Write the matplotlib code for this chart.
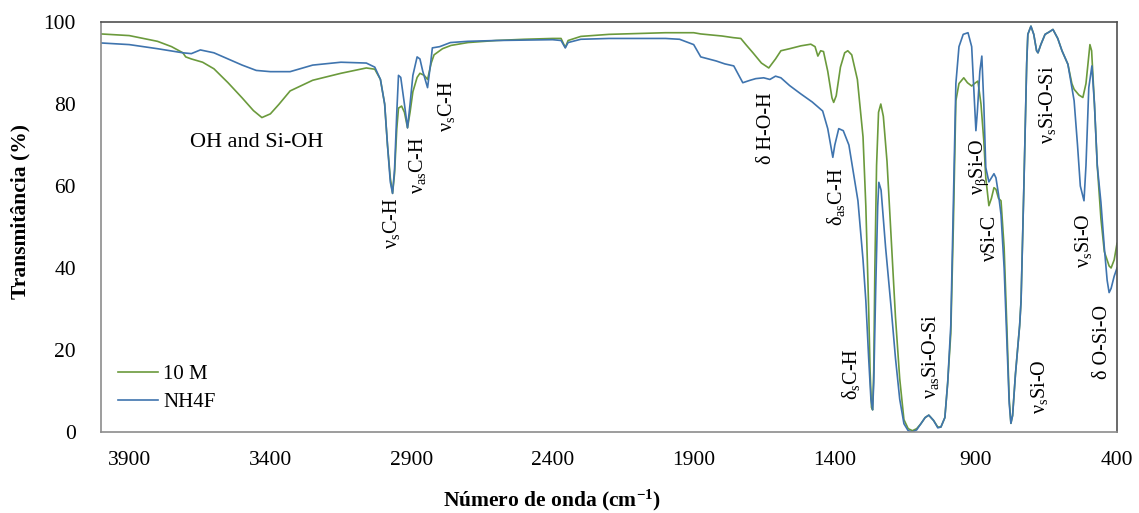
import matplotlib
matplotlib.use("Agg")
import matplotlib.pyplot as plt

plt.rcParams['font.family'] = ['Liberation Serif', 'DejaVu Serif']
plt.rcParams['mathtext.fontset'] = 'custom'
plt.rcParams['mathtext.rm'] = 'Liberation Serif'
plt.rcParams['mathtext.it'] = 'Liberation Serif:italic'
plt.rcParams['mathtext.bf'] = 'Liberation Serif:bold'

# spectrum 10 M (wavenumber, transmittance)
wn_10m = [4000, 3900, 3800, 3750, 3710, 3700, 3680, 3640, 3600, 3550, 3500, 3460,
          3430, 3400, 3370, 3330, 3250, 3150, 3060, 3030, 3010, 2995, 2985, 2975,
          2967, 2960, 2952, 2946, 2935, 2925, 2914, 2905, 2895, 2880, 2870, 2855,
          2843, 2830, 2820, 2790, 2760, 2700, 2600, 2500, 2400, 2370, 2355, 2345,
          2300, 2200, 2100, 2000, 1900, 1875, 1800, 1760, 1733, 1715, 1690, 1660,
          1634, 1610, 1591, 1560, 1520, 1485, 1470, 1460, 1450, 1440, 1425, 1410,
          1404, 1395, 1380, 1365, 1354, 1340, 1320, 1300, 1290, 1280, 1275, 1270,
          1266, 1262, 1258, 1252, 1245, 1237, 1228, 1215, 1200, 1185, 1170, 1155,
          1140, 1125, 1110, 1095, 1080, 1067, 1050, 1035, 1024, 1010, 1000, 989,
          980, 971, 960, 943, 930, 915, 905, 893, 882, 872, 865, 854, 845, 836,
          829, 820, 811, 800, 790, 782, 776, 770, 760, 745, 740, 730, 720, 716,
          705, 695, 685, 680, 670, 655, 640, 627, 610, 595, 574, 560, 552, 535,
          521, 510, 496, 490, 480, 470, 457, 445, 428, 421, 410, 400]
tr_10m = [97.1, 96.7, 95.3, 94.0, 92.5, 91.5, 91.0, 90.2, 88.6, 85.2, 81.5, 78.4,
          76.7, 77.6, 79.9, 83.2, 85.8, 87.5, 88.8, 88.5, 86.0, 80.0, 70.0, 62.0,
          58.2, 63.0, 74.0, 79.0, 79.5, 78.0, 74.2, 78.0, 83.0, 86.5, 87.5, 87.0,
          86.0, 90.0, 92.0, 93.5, 94.3, 95.0, 95.5, 95.8, 96.0, 96.0, 93.8, 95.5,
          96.5, 97.0, 97.2, 97.4, 97.4, 97.1, 96.6, 96.2, 96.0, 94.5, 92.5, 90.0,
          88.8, 91.0, 93.0, 93.5, 94.2, 94.6, 94.0, 91.7, 93.0, 92.8, 88.0, 81.5,
          80.4, 82.0, 89.0, 92.5, 93.0, 92.0, 86.0, 72.0, 55.0, 30.0, 15.0, 6.0,
          5.4, 15.0, 40.0, 65.0, 78.0, 80.0, 77.0, 66.0, 47.0, 28.0, 13.0, 3.0,
          0.8, 0.3, 0.8, 2.0, 3.5, 4.1, 2.8, 1.2, 1.2, 3.5, 12.0, 24.0,
          50.0, 80.8, 85.0, 86.4, 85.2, 84.4, 85.0, 85.6, 80.0, 71.0, 62.0, 55.2, 57.0, 59.6,
          59.2, 57.0, 56.4, 45.0, 25.0, 8.0, 2.1, 4.0, 14.0, 26.0, 32.0, 60.0, 90.0, 97.0,
          99.0, 97.0, 93.0, 92.5, 94.5, 97.0, 97.6, 98.2, 96.0, 93.0, 89.7, 85.0, 83.6, 82.2,
          81.6, 85.0, 94.5, 93.0, 80.0, 65.0, 52.0, 44.0, 40.5, 40.0, 42.0, 46.0]

# spectrum NH4F
wn_nh4f = [4000, 3900, 3800, 3710, 3680, 3648, 3600, 3550, 3500, 3450, 3400, 3330,
           3300, 3250, 3150, 3060, 3030, 3010, 2995, 2985, 2975, 2967, 2960, 2952,
           2946, 2938, 2925, 2914, 2905, 2895, 2880, 2870, 2860, 2843, 2832, 2826,
           2800, 2762, 2700, 2600, 2500, 2400, 2370, 2355, 2345, 2300, 2200, 2100,
           2000, 1950, 1900, 1875, 1820, 1790, 1758, 1740, 1726, 1700, 1680, 1652,
           1630, 1610, 1591, 1560, 1521, 1480, 1443, 1425, 1407, 1400, 1386, 1370,
           1350, 1318, 1300, 1290, 1280, 1272, 1266, 1262, 1255, 1248, 1244, 1236,
           1220, 1200, 1185, 1170, 1155, 1140, 1125, 1110, 1095, 1080, 1067, 1050,
           1035, 1024, 1010, 1000, 989, 980, 971, 960, 945, 928, 915, 905, 900, 895,
           886, 879, 872, 865, 854, 845, 836, 829, 820, 811, 800, 790, 782, 776,
           770, 760, 745, 740, 730, 720, 716, 705, 695, 685, 680, 670, 655, 640,
           627, 610, 595, 574, 560, 552, 540, 530, 517, 510, 500, 489, 480, 470,
           457, 445, 435, 428, 421, 410, 400]
tr_nh4f = [94.9, 94.5, 93.5, 92.5, 92.3, 93.2, 92.5, 91.0, 89.5, 88.2, 87.9, 87.9,
           88.5, 89.5, 90.2, 90.0, 89.0, 86.0, 80.0, 70.0, 61.0, 58.2, 64.0, 78.0,
           87.0, 86.5, 80.0, 74.2, 80.0, 87.0, 91.5, 91.0, 88.0, 84.0, 90.0, 93.7,
           94.0, 95.0, 95.3, 95.5, 95.6, 95.7, 95.5, 93.7, 95.0, 95.8, 96.0, 96.0,
           96.0, 95.8, 94.5, 91.5, 90.5, 89.8, 89.3, 87.0, 85.2, 85.8, 86.2, 86.4,
           86.0, 86.8, 86.4, 84.5, 82.5, 80.5, 78.3, 74.0, 67.0, 70.0, 74.0, 73.5,
           70.0, 56.4, 42.0, 32.0, 18.0, 8.0, 5.4, 12.0, 35.0, 55.0, 60.9, 59.0,
           45.0, 30.0, 18.0, 8.0, 2.0, 0.3, 0.0, 0.5, 2.0, 3.5, 4.1, 2.8,
           1.0, 1.2, 3.5, 12.0, 26.0, 55.0, 85.0, 94.0, 97.0, 97.4, 94.0, 80.0, 73.5, 78.0,
           88.0, 91.7, 80.0, 64.5, 61.0, 62.0, 63.0, 62.0, 58.0, 53.0, 40.0, 22.0, 7.0, 2.1,
           4.0, 14.0, 26.0, 32.0, 60.0, 90.0, 97.0, 99.0, 97.0, 93.0, 92.5, 94.5, 97.0, 97.6,
           98.2, 96.0, 93.0, 89.7, 84.0, 80.8, 70.0, 60.0, 56.4, 65.0, 84.0, 89.3, 80.0, 65.0,
           56.0, 45.0, 37.0, 34.0, 35.0, 38.0, 40.0]

# band assignments: (text, wavenumber, transmittance)
bands = [
    ('ν$_{\\mathrm{s}}$C-H', 2971, 51.0),
    ('ν$_{\\mathrm{as}}$C-H', 2879, 65.1),
    ('ν$_{\\mathrm{s}}$C-H', 2776, 79.5),
    ('δ H-O-H', 1641, 74.1),
    ('δ$_{\\mathrm{as}}$C-H', 1396, 57.3),
    ('δ$_{\\mathrm{s}}$C-H', 1343, 14.1),
    ('ν$_{\\mathrm{as}}$Si-O-Si', 1060, 18.3),
    ('ν$_{\\mathrm{β}}$Si-O', 889, 64.6),
    ('νSi-C', 847, 47.3),
    ('ν$_{\\mathrm{s}}$Si-O', 673, 11.0),
    ('ν$_{\\mathrm{s}}$Si-O-Si', 648, 79.8),
    ('ν$_{\\mathrm{s}}$Si-O', 517, 46.6),
    ('δ O-Si-O', 453, 22.0),
]

xticks = [3900, 3400, 2900, 2400, 1900, 1400, 900, 400]
yticks = [0, 20, 40, 60, 80, 100]

green = '#6b9a3c'
blue = '#3f74ae'

fig = plt.figure(figsize=(11.39, 5.13), dpi=100)
ax = fig.add_axes([0.0887, 0.158, 0.892, 0.799])

ax.plot(wn_10m, tr_10m, color=green, lw=1.2, label='10 M')
ax.plot(wn_nh4f, tr_nh4f, color=blue, lw=1.2, label='NH4F')

ax.set_xlim(4000, 400)
ax.set_ylim(0, 100)
ax.set_xticks(xticks)
ax.set_yticks(yticks)
ax.tick_params(length=0, labelsize=15.5)
ax.tick_params(axis='y', pad=18)
ax.tick_params(axis='x', pad=14)

for side in ['top', 'right']:
    ax.spines[side].set_color('#505050')
for side in ['left', 'bottom']:
    ax.spines[side].set_color('#8c8c8c')
for sp in ax.spines.values():
    sp.set_linewidth(1.2)

ax.set_ylabel('Transmitância (%)', fontsize=15.5, fontweight='bold')
ax.set_xlabel('Número de onda (cm$^{\\mathbf{-1}}$)', fontsize=15.5, fontweight='bold')
ax.yaxis.set_label_coords(-0.069, 0.537)
ax.xaxis.set_label_coords(0.444, -0.137)

ax.text(3450, 70.5, 'OH and Si-OH', fontsize=16, ha='center', va='center')
for txt, x, y in bands:
    ax.text(x, y, txt, fontsize=14.5, rotation=90, ha='center', va='center')

ax.legend(loc='upper left', bbox_to_anchor=(0.017, 0.165), frameon=False,
          fontsize=15, handlelength=1.9, handletextpad=0.25, labelspacing=0.4,
          borderpad=0, borderaxespad=0)

fig.savefig('out.png', dpi=100)
